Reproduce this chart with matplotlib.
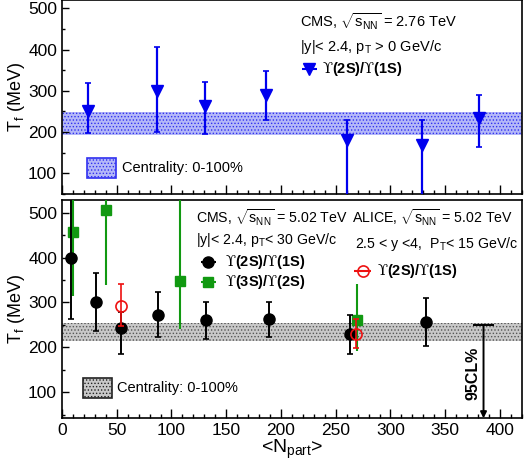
import matplotlib
matplotlib.use("Agg")
from matplotlib import pyplot as plt
from matplotlib.patches import Rectangle
from matplotlib.ticker import MultipleLocator

plt.rcParams['font.family'] = ['Liberation Sans', 'DejaVu Sans']
plt.rcParams['mathtext.fontset'] = 'custom'
plt.rcParams['mathtext.rm'] = 'Liberation Sans'
plt.rcParams['mathtext.it'] = 'Liberation Sans:italic'
plt.rcParams['mathtext.bf'] = 'Liberation Sans:bold'
plt.rcParams['mathtext.sf'] = 'DejaVu Serif'
plt.rcParams['hatch.linewidth'] = 0.6

# CMS 2.76 TeV, Y(2S)/Y(1S)
npart_276 = [23.5, 86.6, 130.6, 186.7, 260.4, 328.7, 380.8]
tf_276 = [252, 299, 262, 290, 180, 169, 233]
tf_276_lo = [54, 98, 67, 60, 140, 130, 70]
tf_276_hi = [68, 108, 59, 58, 50, 60, 58]
band_276 = (193, 248)

# CMS 5.02 TeV, Y(2S)/Y(1S)
npart_502 = [8.6, 31.1, 54.1, 87.8, 131.8, 189.1, 263.1, 332.3]
tf_502 = [398, 300, 243, 272, 260, 262, 230, 256]
tf_502_lo = [136, 63, 58, 50, 41, 39, 44, 53]
tf_502_hi = [140, 66, 36, 52, 40, 40, 43, 54]

# CMS 5.02 TeV, Y(3S)/Y(2S)
npart_3s = [10.2, 40.5, 107.8, 269.2]
tf_3s = [456, 506, 348, 260]
tf_3s_lo = [142, 167, 108, 69]
tf_3s_hi = [200, 200, 200, 82]

# ALICE 5.02 TeV, Y(2S)/Y(1S)
npart_alice = [54.1, 268.6]
tf_alice = [293, 230]
tf_alice_lo = [46, 31]
tf_alice_hi = [49, 32]

band_502 = (213, 254)
cl95_npart = 385
cl95_tf = 250

UPS = '$\\mathsf{\u03d2}$'
lbl_21 = UPS + '(2S)/' + UPS + '(1S)'
lbl_32 = UPS + '(3S)/' + UPS + '(2S)'

fig = plt.figure(figsize=(5.25, 4.68), dpi=100)
ax1 = fig.add_axes([0.118, 0.5855, 0.876, 0.4145])
ax2 = fig.add_axes([0.118, 0.1062, 0.876, 0.4664])

for ax in (ax1, ax2):
    ax.set_xlim(0, 420)
    ax.xaxis.set_major_locator(MultipleLocator(50))
    ax.xaxis.set_minor_locator(MultipleLocator(10))
    ax.yaxis.set_major_locator(MultipleLocator(100))
    ax.yaxis.set_minor_locator(MultipleLocator(50))
    ax.tick_params(which='both', direction='in', top=False, right=False,
                   labelsize=12.5, width=1)
    ax.tick_params(axis='x', which='major', length=6.5)
    ax.tick_params(axis='x', which='minor', length=3)
    ax.tick_params(axis='y', which='major', length=5)
    ax.tick_params(axis='y', which='minor', length=2.5)
    for s in ax.spines.values():
        s.set_linewidth(1.2)
    ax.set_ylabel(r'T$_{\mathregular{f}}$ (MeV)', fontsize=13, labelpad=1)

# ---- top panel
ax1.set_ylim(50, 520)
ax1.tick_params(axis='x', labelbottom=False)
ax1.axhspan(band_276[0], band_276[1], facecolor='#b4b8f8', edgecolor='#3030f0',
            hatch='.....', linewidth=0, zorder=1)
ax1.errorbar(npart_276, tf_276, yerr=[tf_276_lo, tf_276_hi], fmt='v', color='#0000ee',
             ms=8, elinewidth=1.6, capsize=2, capthick=1.2, zorder=3)

ax1.text(0.518, 0.888, r'CMS, $\sqrt{\mathregular{s_{NN}}}$ = 2.76 TeV', transform=ax1.transAxes,
         fontsize=10.5, va='center')
ax1.text(0.518, 0.76, r'|y|< 2.4, p$_{\mathregular{T}}$ > 0 GeV/c', transform=ax1.transAxes,
         fontsize=10.5, va='center')
ax1.errorbar([0.538], [0.644], xerr=[0.017], fmt='v', color='#0000ee', ms=8,
             transform=ax1.transAxes, clip_on=False)
ax1.text(0.565, 0.644, lbl_21, transform=ax1.transAxes,
         fontsize=10.5, va='center', fontweight='bold')
ax1.add_patch(Rectangle((0.054, 0.082), 0.064, 0.103, transform=ax1.transAxes,
                        facecolor='#b4b8f8', edgecolor='#3030f0', hatch='.....', lw=1.2))
ax1.text(0.13, 0.134, 'Centrality: 0-100%', transform=ax1.transAxes,
         fontsize=10.5, va='center')

# ---- bottom panel
ax2.set_ylim(42, 528)
ax2.axhspan(band_502[0], band_502[1], facecolor='#c8c8c8', edgecolor='#555555',
            hatch='.....', linewidth=0, zorder=1)
ax2.errorbar(npart_3s, tf_3s, yerr=[tf_3s_lo, tf_3s_hi], fmt='s', color='#119911',
             ms=7, elinewidth=1.5, capsize=0, zorder=3)
ax2.errorbar(npart_502, tf_502, yerr=[tf_502_lo, tf_502_hi], fmt='o', color='black',
             ms=8, elinewidth=1.4, capsize=2, capthick=1.2, zorder=4)
ax2.errorbar(npart_alice, tf_alice, yerr=[tf_alice_lo, tf_alice_hi], fmt='o', color='#ee1111',
             mfc='none', ms=8, mew=1.2, elinewidth=1.2, capsize=2, zorder=5)

ax2.hlines(cl95_tf, cl95_npart - 10, cl95_npart + 10, color='black', lw=1.4)
ax2.annotate('', xy=(cl95_npart, 42), xytext=(cl95_npart, cl95_tf),
             arrowprops=dict(arrowstyle='-|>', color='black', lw=1.4,
                             mutation_scale=9, shrinkA=0, shrinkB=0))
ax2.text(cl95_npart - 9.5, 143, '95CL%', rotation=90, fontsize=11.5, fontweight='bold',
         ha='center', va='center')

ax2.text(0.292, 0.918, r'CMS, $\sqrt{\mathregular{s_{NN}}}$ = 5.02 TeV', transform=ax2.transAxes,
         fontsize=10.2, va='center')
ax2.text(0.63, 0.918, r'ALICE, $\sqrt{\mathregular{s_{NN}}}$ = 5.02 TeV', transform=ax2.transAxes,
         fontsize=10.2, va='center')
ax2.text(0.292, 0.817, r'|y|< 2.4, p$_{\mathregular{T}}$< 30 GeV/c', transform=ax2.transAxes,
         fontsize=10.2, va='center')
ax2.text(0.638, 0.798, r'2.5 < y <4,  P$_{\mathregular{T}}$< 15 GeV/c', transform=ax2.transAxes,
         fontsize=10.2, va='center')
ax2.errorbar([0.318], [0.717], xerr=[0.016], fmt='o', color='black', ms=8,
             transform=ax2.transAxes, clip_on=False)
ax2.text(0.355, 0.717, lbl_21, transform=ax2.transAxes,
         fontsize=10.5, va='center', fontweight='bold')
ax2.errorbar([0.318], [0.626], xerr=[0.016], fmt='s', color='#119911', ms=7,
             transform=ax2.transAxes, clip_on=False)
ax2.text(0.355, 0.626, lbl_32, transform=ax2.transAxes,
         fontsize=10.5, va='center', fontweight='bold')
ax2.errorbar([0.654], [0.675], xerr=[0.018], fmt='o', color='#ee1111', mfc='none', ms=8,
             mew=1.2, transform=ax2.transAxes, clip_on=False)
ax2.text(0.686, 0.675, lbl_21, transform=ax2.transAxes,
         fontsize=10.5, va='center', fontweight='bold')
ax2.add_patch(Rectangle((0.045, 0.094), 0.063, 0.089, transform=ax2.transAxes,
                        facecolor='#c8c8c8', edgecolor='#222222', hatch='.....', lw=1.2))
ax2.text(0.12, 0.139, 'Centrality: 0-100%', transform=ax2.transAxes,
         fontsize=10.5, va='center')

ax2.set_xlabel(r'<N$_{\mathregular{part}}$>', fontsize=14, labelpad=0)

fig.savefig('out.png', dpi=100)
